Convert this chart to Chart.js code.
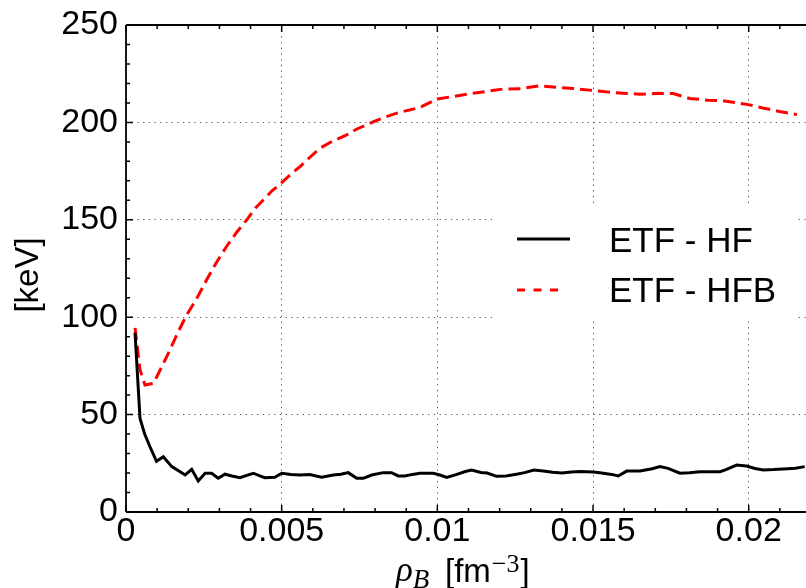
<!DOCTYPE html>
<html><head><meta charset="utf-8">
<script src="https://cdn.jsdelivr.net/npm/chart.js@4.4.0/dist/chart.umd.min.js"></script>
<style>html,body{margin:0;padding:0;background:#fff;overflow:hidden}#wrap{width:806px;height:588px;position:relative}</style>
</head><body><div id="wrap"><canvas id="c"></canvas></div>
<script>
// ---- data ----
const rhoHF = [0.00029,0.00037,0.00045,0.00060,0.00077,0.00098,0.00120,0.00147,0.00170,0.00190,0.00211,0.00232,0.00254,0.00275,0.00296,0.00318,0.00340,0.00366,0.00388,0.00409,0.00430,0.00446,0.00478,0.00500,0.00530,0.00559,0.00590,0.00628,0.00666,0.00690,0.00714,0.00741,0.00762,0.00789,0.00826,0.00853,0.00874,0.00896,0.00920,0.00944,0.00987,0.01008,0.01030,0.01060,0.01090,0.01110,0.01140,0.01160,0.01190,0.01220,0.01250,0.01280,0.01310,0.01340,0.01370,0.01400,0.01430,0.01460,0.01500,0.01522,0.01560,0.01581,0.01608,0.01651,0.01690,0.01715,0.01741,0.01779,0.01810,0.01843,0.01908,0.01929,0.01961,0.01993,0.02020,0.02047,0.02080,0.02111,0.02150,0.02180];
const keVHF = [92,70,48,40,33.5,26,28.4,23.3,21,19,21.9,15.9,19.9,19.9,17.3,19.4,18.5,17.6,18.8,19.9,18.5,17.6,17.8,19.9,19.2,19.0,19.2,17.8,19.0,19.4,20.2,17.3,17.3,19.0,20.2,20.2,18.5,18.5,19.3,19.9,19.9,19.0,17.8,19.2,20.8,21.5,20.3,20.0,18.3,18.5,19.3,20.2,21.5,21.0,20.4,20.0,20.5,20.8,20.5,20.2,19.3,18.5,21.0,21.0,22.2,23.3,22.4,19.9,20.2,20.7,20.7,21.9,24.1,23.6,22.3,21.6,21.8,22.1,22.5,23.3];
const rhoHFB = [0.00029,0.00045,0.00061,0.00088,0.00115,0.00141,0.00168,0.00195,0.00227,0.00259,0.00290,0.00323,0.00355,0.00388,0.00415,0.00441,0.00470,0.00500,0.00530,0.00559,0.00590,0.00623,0.00665,0.00709,0.00740,0.00773,0.00805,0.00837,0.00865,0.00890,0.00943,0.01000,0.01050,0.01103,0.01157,0.01210,0.01268,0.01328,0.01381,0.01435,0.01499,0.01540,0.01596,0.01650,0.01708,0.01757,0.01810,0.01869,0.01922,0.02003,0.02045,0.02099,0.02155];
const keVHFB = [94.5,73,65.2,66,74.6,83.2,92.6,101.2,109.5,119.2,128,136.3,143.5,150,156,160.2,165,169.1,173.5,177.3,182,186.8,190.5,193.6,196.5,198.8,201,203,204.5,205.6,207.6,212,213.3,214.7,215.9,217.1,217.3,218.8,218.1,217.4,216.4,215.7,215,214.5,214.9,214.8,212.3,211.4,211,209,207.4,205.6,204];
const seriesLabels = ['ETF - HF', 'ETF - HFB'];
const xTicks = [0, 0.005, 0.01, 0.015, 0.02];
const xTickLabels = ['0', '0.005', '0.01', '0.015', '0.02'];
const yTicks = [0, 50, 100, 150, 200, 250];
const yTickLabels = ['0', '50', '100', '150', '200', '250'];
const xMinorStep = 0.001, yMinorStep = 10;
const xMax = 0.02184, yMax = 250;

const SANS = "'Liberation Sans', Arial, sans-serif";
const SERIF = "'Liberation Serif', 'DejaVu Serif', serif";
const GRID = 'rgba(0,0,0,0.65)';

const framePlugin = {
  id: 'frameTicks',
  afterDatasetsDraw(chart) {
    const ctx = chart.ctx, a = chart.chartArea;
    const xs = chart.scales.x, ys = chart.scales.y;
    ctx.save();
    ctx.strokeStyle = '#000';
    ctx.lineWidth = 1.8;
    ctx.beginPath();
    ctx.moveTo(a.left, a.top); ctx.lineTo(a.right, a.top);
    ctx.moveTo(a.left, a.top); ctx.lineTo(a.left, a.bottom);
    ctx.moveTo(a.left, a.bottom); ctx.lineTo(a.right, a.bottom);
    ctx.stroke();
    ctx.lineWidth = 1.5;
    ctx.beginPath();
    for (let i = 0; i * xMinorStep <= xMax + 1e-12; i++) {
      const px = xs.getPixelForValue(i * xMinorStep);
      const len = (i % 5 === 0) ? 7 : 4;
      ctx.moveTo(px, a.bottom); ctx.lineTo(px, a.bottom - len);
      ctx.moveTo(px, a.top); ctx.lineTo(px, a.top + len);
    }
    for (let i = 0; i * yMinorStep <= yMax; i++) {
      const py = ys.getPixelForValue(i * yMinorStep);
      const len = (i % 5 === 0) ? 7 : 4;
      ctx.moveTo(a.left, py); ctx.lineTo(a.left + len, py);
    }
    ctx.stroke();
    ctx.restore();
  },
  afterDraw(chart) {
    const ctx = chart.ctx;
    const ds = chart.data.datasets;
    ctx.save();
    // legend
    ctx.fillStyle = '#fff';
    ctx.fillRect(492, 205, 303, 113);
    const rows = [{y: 239, yb: 251.5}, {y: 290, yb: 301.5}];
    ds.forEach((d, i) => {
      ctx.strokeStyle = d.borderColor;
      ctx.lineWidth = d.borderWidth;
      ctx.setLineDash(i === 1 ? [8, 8.5] : []);
      ctx.beginPath();
      ctx.moveTo(517, rows[i].y); ctx.lineTo(i === 1 ? 562 : 570, rows[i].y);
      ctx.stroke();
      ctx.setLineDash([]);
      ctx.fillStyle = '#000';
      ctx.font = '35px ' + SANS;
      ctx.textBaseline = 'alphabetic';
      ctx.textAlign = 'left';
      ctx.fillText(d.label, 609, rows[i].yb);
    });
    // y title
    ctx.save();
    ctx.translate(38, 275);
    ctx.rotate(-Math.PI / 2);
    ctx.font = '33px ' + SANS;
    ctx.textAlign = 'center';
    ctx.textBaseline = 'alphabetic';
    ctx.fillText('[keV]', 0, 0);
    ctx.restore();
    // x title: rho_B [fm^-3]
    ctx.textAlign = 'left';
    ctx.textBaseline = 'alphabetic';
    let x = 396;
    ctx.font = 'italic 35px ' + SERIF;
    ctx.fillText('ρ', x, 581);
    x += ctx.measureText('ρ').width;
    ctx.font = 'italic 27px ' + SERIF;
    ctx.fillText('B', x, 588);
    x = 445;
    ctx.font = '33px ' + SANS;
    ctx.fillText('[fm', x, 582);
    x += ctx.measureText('[fm').width + 1;
    ctx.font = '26px ' + SERIF;
    ctx.fillText('−3', x, 572);
    x += ctx.measureText('−3').width + 1;
    ctx.font = '33px ' + SANS;
    ctx.fillText(']', x, 582);
    ctx.restore();
  }
};

new Chart(document.getElementById('c'), {
  type: 'line',
  data: {
    datasets: [
      { label: seriesLabels[0], data: rhoHF.map((r, i) => ({x: r, y: keVHF[i]})),
        borderColor: '#000', borderWidth: 3, pointRadius: 0, tension: 0, fill: false },
      { label: seriesLabels[1], data: rhoHFB.map((r, i) => ({x: r, y: keVHFB[i]})),
        borderColor: '#ff0000', borderWidth: 3, borderDash: [12, 6], pointRadius: 0, tension: 0, fill: false }
    ]
  },
  options: {
    responsive: true, maintainAspectRatio: false, animation: false,
    layout: { padding: { top: 25, left: 0, right: 0, bottom: 0 } },
    plugins: { legend: { display: false }, tooltip: { enabled: false } },
    scales: {
      x: {
        type: 'linear', min: 0, max: xMax,
        afterBuildTicks: s => { s.ticks = xTicks.map(v => ({value: v})); },
        afterFit: s => { s.height = 76; s.paddingLeft = 0; s.paddingRight = 0; },
        ticks: { autoSkip: false, maxRotation: 0, padding: 3, color: '#000',
          font: { family: SANS, size: 34, lineHeight: 1 },
          callback: (v, i) => xTickLabels[i] },
        grid: { color: GRID, lineWidth: 1, drawTicks: false, borderDash: [1.3, 4.4] },
        border: { display: false, dash: [1.3, 4.4] }
      },
      y: {
        type: 'linear', min: 0, max: yMax,
        afterBuildTicks: s => { s.ticks = yTicks.map(v => ({value: v})); },
        afterFit: s => { s.width = 126; s.paddingTop = 0; s.paddingBottom = 0; },
        ticks: { autoSkip: false, padding: 8, color: '#000',
          font: { family: SANS, size: 34, lineHeight: 1 },
          callback: (v, i) => yTickLabels[i] },
        grid: { color: GRID, lineWidth: 1, drawTicks: false, borderDash: [1.3, 4.4] },
        border: { display: false, dash: [1.3, 4.4] }
      }
    }
  },
  plugins: [framePlugin]
});
</script></body></html>
